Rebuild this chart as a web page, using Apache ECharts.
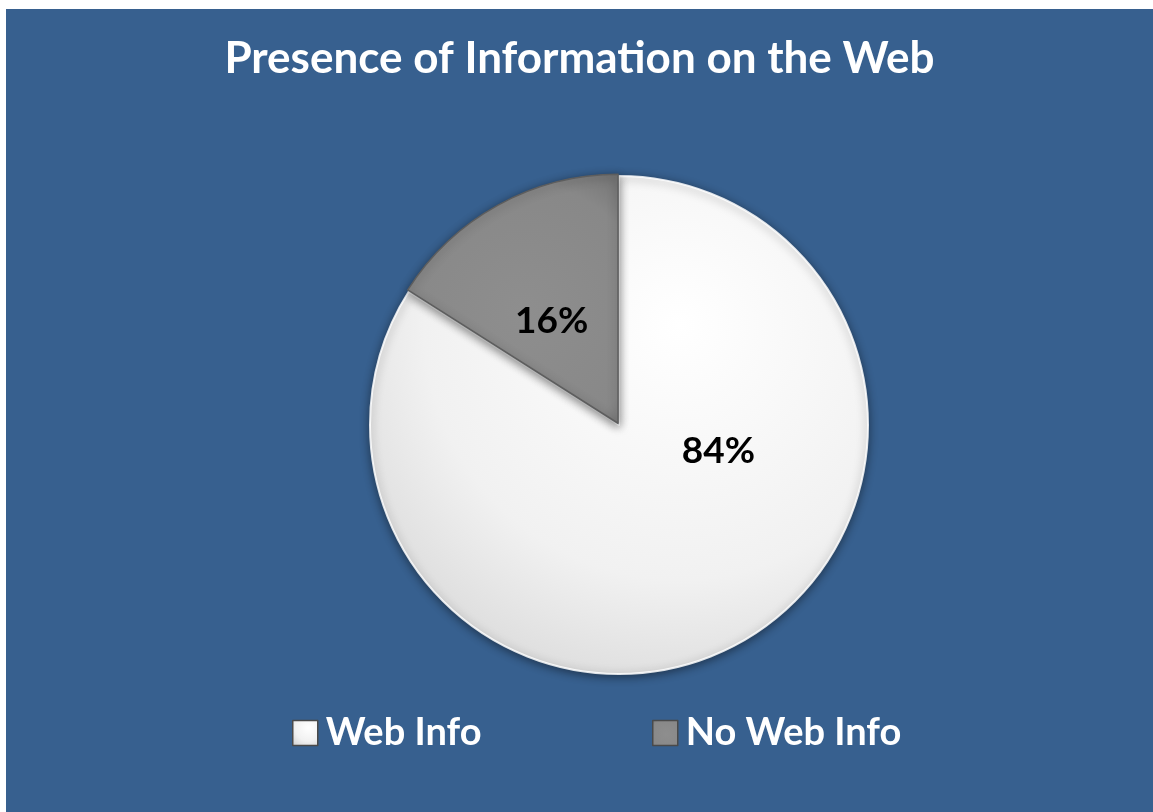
<!DOCTYPE html>
<html>
<head>
<meta charset="utf-8">
<title>Presence of Information on the Web</title>
<script src="https://cdn.jsdelivr.net/npm/echarts@6/dist/echarts.min.js"></script>
<style>
  html, body { margin: 0; padding: 0; background: #fff; }
  /* the blue panel starts a little in from the top-left corner */
  #main { position: absolute; left: 6px; top: 9px; width: 1147px; height: 803px; }
</style>
</head>
<body>
<div id="main"></div>
<script>
// data
var categories = ['Web Info', 'No Web Info'];
var shares = [84, 16];

var FONT = 'Lato, "Open Sans", sans-serif';

// slice fills: glossy white and grey
var fills = [
  new echarts.graphic.RadialGradient(0.62, 0.3, 0.85, [
    { offset: 0, color: '#ffffff' },
    { offset: 0.6, color: '#f1f1f1' },
    { offset: 1, color: '#d4d4d4' }
  ]),
  new echarts.graphic.RadialGradient(0.55, 0.55, 0.8, [
    { offset: 0, color: '#8e8e8e' },
    { offset: 0.75, color: '#888888' },
    { offset: 1, color: '#727272' }
  ])
];

// move the labels to where the original chart puts them
var labelShift = [[38, -86], [-5, 10]];

function legendAt(name, left) {
  return {
    data: [name],
    left: left,
    top: 705,
    padding: 0,
    itemWidth: 25,
    itemHeight: 25,
    icon: 'rect',
    itemStyle: { borderColor: '#4a4a4a', borderWidth: 1.5 },
    textStyle: { color: '#fff', fontFamily: FONT, fontWeight: 'bold', fontSize: 38, padding: [0, 0, 0, 3] }
  };
}

var chart = echarts.init(document.getElementById('main'));

var option = {
  backgroundColor: '#37608f',
  animation: false,
  title: {
    text: 'Presence of Information on the Web',
    left: 'center',
    top: 23,
    textStyle: { color: '#fff', fontFamily: FONT, fontWeight: 'bold', fontSize: 44 }
  },
  legend: [legendAt(categories[0], 286), legendAt(categories[1], 646)],
  series: [{
    type: 'pie',
    center: [613, 416],
    radius: 249,
    startAngle: 90,
    clockwise: true,
    selectedMode: 'single',
    selectedOffset: 2,
    label: {
      position: 'inside',
      formatter: '{c}%',
      color: '#000',
      fontFamily: FONT,
      fontWeight: 'bold',
      fontSize: 37
    },
    labelLayout: function (p) {
      var s = labelShift[p.dataIndex];
      return { dx: s[0], dy: s[1] };
    },
    labelLine: { show: false },
    emphasis: { disabled: true },
    itemStyle: {
      shadowBlur: 10,
      shadowColor: 'rgba(0,0,0,0.45)',
      shadowOffsetY: 2
    },
    data: categories.map(function (name, i) {
      return {
        name: name,
        value: shares[i],
        selected: i === 1,
        itemStyle: {
          color: fills[i],
          borderColor: i === 1 ? '#5e5e5e' : 'rgba(255,255,255,0.85)',
          borderWidth: i === 1 ? 1.5 : 2
        }
      };
    })
  }]
};

chart.setOption(option);
</script>
</body>
</html>
